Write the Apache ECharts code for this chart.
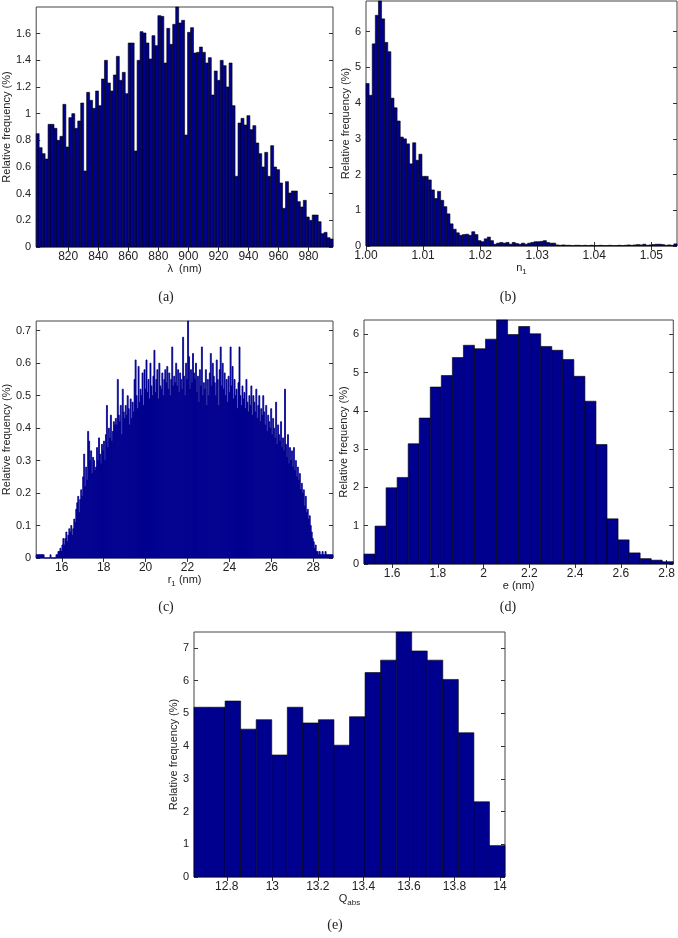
<!DOCTYPE html>
<html>
<head>
<meta charset="utf-8">
<script src="https://cdn.jsdelivr.net/npm/echarts@6/dist/echarts.min.js"></script>
<style>
  html, body { margin: 0; padding: 0; background: #fff; }
  #chart { width: 678px; height: 938px; }
</style>
</head>
<body>
<div id="chart"></div>
<script>
// (a) wavelength histogram, 100 bins
const lambdaRange = [798.7, 996.3]
const lambdaVals = [
  0.85, 0.745, 0.70, 0.66, 0.92, 0.92, 0.89, 0.80, 0.83, 1.07,
  0.75, 0.97, 1.00, 0.89, 0.945, 1.08, 0.57, 1.16, 1.10, 1.04,
  1.17, 1.06, 1.26, 1.40, 1.23, 1.17, 1.29, 1.43, 1.25, 1.31,
  1.15, 1.53, 1.53, 0.72, 1.40, 1.615, 1.605, 1.53, 1.41, 1.585,
  1.51, 1.735, 1.73, 1.38, 1.64, 1.52, 1.67, 1.80, 1.68, 1.70,
  0.84, 1.61, 1.645, 1.455, 1.46, 1.50, 1.46, 1.38, 1.42, 1.14,
  1.32, 1.25, 1.40, 1.36, 1.20, 1.38, 1.06, 0.53, 0.93, 0.965,
  0.915, 0.985, 0.88, 0.91, 0.78, 0.70, 0.60, 0.71, 0.53, 0.76,
  0.60, 0.58, 0.48, 0.29, 0.49, 0.405, 0.42, 0.42, 0.34, 0.30,
  0.35, 0.225, 0.20, 0.24, 0.24, 0.19, 0.10, 0.11, 0.07, 0.06
]
const lambdaTicks = [820, 840, 860, 880, 900, 920, 940, 960, 980]
const lambdaYTicks = [0, 0.2, 0.4, 0.6, 0.8, 1, 1.2, 1.4, 1.6]

// (b) n1 histogram, 100 bins
const n1Range = [1.0, 1.0545]
const n1Vals = [
  4.55, 4.22, 5.66, 6.46, 6.86, 6.36, 5.70, 5.44, 4.14, 3.87,
  3.50, 3.05, 3.00, 2.86, 2.30, 2.89, 2.40, 2.57, 1.95, 1.95,
  1.85, 1.57, 1.33, 1.53, 1.28, 1.10, 0.90, 0.62, 0.47, 0.37,
  0.30, 0.32, 0.33, 0.30, 0.40, 0.32, 0.15, 0.12, 0.20, 0.25,
  0.15, 0.05, 0.08, 0.10, 0.08, 0.10, 0.05, 0.10, 0.07, 0.05,
  0.08, 0.05, 0.08, 0.10, 0.12, 0.12, 0.13, 0.15, 0.10, 0.08,
  0.08, 0.03, 0.02, 0.03, 0.02, 0.02, 0.01, 0.02, 0.02, 0.01,
  0.02, 0.01, 0.02, 0.01, 0.01, 0.02, 0.01, 0.01, 0.02, 0.01,
  0.01, 0.02, 0.01, 0.02, 0.03, 0.02, 0.03, 0.04, 0.03, 0.05,
  0.02, 0.03, 0.04, 0.05, 0.05, 0.04, 0.02, 0.03, 0.02, 0.06
]
const n1Ticks = [1.00, 1.01, 1.02, 1.03, 1.04, 1.05]
const n1YTicks = [0, 1, 2, 3, 4, 5, 6]

// (c) r1 histogram, 300 bins
const r1Range = [14.78, 28.94]
const r1Vals = [
  0.01, 0.01, 0.01, 0.01, 0.01, 0.01, 0.01, 0.01, 0, 0,
  0, 0, 0, 0, 0.01, 0, 0, 0, 0, 0,
  0.01, 0.01, 0.02, 0.02, 0.03, 0.02, 0.04, 0.06, 0.04, 0.06,
  0.08, 0.05, 0.07, 0.09, 0.08, 0.10, 0.07, 0.09, 0.12, 0.11,
  0.15, 0.17, 0.19, 0.14, 0.18, 0.21, 0.19, 0.25, 0.32, 0.22,
  0.28, 0.24, 0.39, 0.36, 0.30, 0.33, 0.26, 0.31, 0.30, 0.27,
  0.28, 0.34, 0.30, 0.37, 0.32, 0.29, 0.35, 0.33, 0.36, 0.30,
  0.38, 0.47, 0.34, 0.40, 0.37, 0.44, 0.36, 0.39, 0.42, 0.41,
  0.43, 0.41, 0.55, 0.44, 0.42, 0.47, 0.38, 0.52, 0.45, 0.43,
  0.47, 0.44, 0.50, 0.46, 0.41, 0.49, 0.43, 0.48, 0.45, 0.55,
  0.61, 0.50, 0.46, 0.59, 0.48, 0.52, 0.50, 0.57, 0.47, 0.58,
  0.52, 0.61, 0.51, 0.55, 0.49, 0.60, 0.53, 0.50, 0.56, 0.64,
  0.51, 0.55, 0.58, 0.49, 0.60, 0.53, 0.52, 0.57, 0.50, 0.55,
  0.58, 0.54, 0.59, 0.52, 0.57, 0.50, 0.55, 0.65, 0.53, 0.56,
  0.54, 0.60, 0.53, 0.58, 0.51, 0.57, 0.55, 0.52, 0.68, 0.56,
  0.50, 0.60, 0.55, 0.73, 0.62, 0.52, 0.58, 0.54, 0.63, 0.57,
  0.55, 0.60, 0.51, 0.56, 0.48, 0.58, 0.53, 0.65, 0.50, 0.54,
  0.52, 0.58, 0.47, 0.55, 0.50, 0.57, 0.63, 0.53, 0.60, 0.56,
  0.54, 0.50, 0.61, 0.55, 0.47, 0.58, 0.65, 0.53, 0.60, 0.52,
  0.57, 0.50, 0.55, 0.48, 0.56, 0.51, 0.65, 0.53, 0.59, 0.49,
  0.55, 0.50, 0.52, 0.46, 0.54, 0.65, 0.50, 0.47, 0.53, 0.49,
  0.51, 0.46, 0.55, 0.48, 0.45, 0.50, 0.47, 0.53, 0.44, 0.50,
  0.48, 0.45, 0.52, 0.43, 0.47, 0.50, 0.42, 0.46, 0.44, 0.50,
  0.45, 0.41, 0.47, 0.39, 0.44, 0.42, 0.40, 0.46, 0.38, 0.43,
  0.40, 0.37, 0.48, 0.35, 0.41, 0.38, 0.36, 0.42, 0.34, 0.37,
  0.33, 0.52, 0.35, 0.31, 0.38, 0.29, 0.34, 0.30, 0.33, 0.28,
  0.34, 0.27, 0.30, 0.25, 0.28, 0.24, 0.26, 0.21, 0.23, 0.20,
  0.21, 0.16, 0.19, 0.14, 0.15, 0.12, 0.13, 0.10, 0.08, 0.06,
  0.05, 0.03, 0.04, 0.02, 0.02, 0.01, 0.02, 0.01, 0.01, 0.02,
  0.01, 0.01, 0.02, 0.01, 0.01, 0.01, 0.01, 0.01, 0.01, 0.01
]
const r1Ticks = [16, 18, 20, 22, 24, 26, 28]
const r1YTicks = [0, 0.1, 0.2, 0.3, 0.4, 0.5, 0.6, 0.7]

// (d) e histogram, 28 bins
const eRange = [1.477, 2.829]
const eVals = [
  0.26, 0.99, 1.99, 2.26, 3.14, 3.81, 4.62, 4.92, 5.39, 5.71,
  5.62, 5.87, 6.37, 5.99, 6.20, 6.01, 5.68, 5.58, 5.34, 4.90,
  4.25, 3.12, 1.18, 0.63, 0.29, 0.14, 0.10, 0.06
]
const eTicks = [1.6, 1.8, 2, 2.2, 2.4, 2.6, 2.8]
const eYTicks = [0, 1, 2, 3, 4, 5, 6]

// (e) Qabs histogram, 20 bins
const qRange = [12.656, 14.022]
const qVals = [
  5.19, 5.19, 5.38, 4.52, 4.81, 3.73, 5.19, 4.71, 4.81, 4.03,
  4.90, 6.25, 6.63, 7.49, 6.91, 6.63, 6.04, 4.41, 2.30, 0.96
]
const qTicks = [12.8, 13, 13.2, 13.4, 13.6, 13.8, 14]
const qYTicks = [0, 1, 2, 3, 4, 5, 6, 7]

const BAR = "#00008f"
const FONT = "Liberation Sans"

const panels = [
  { grid: { left: 31, top: 7, width: 302, height: 240 }, range: lambdaRange, vals: lambdaVals, ymax: 1.8,
    xt: lambdaTicks, yt: lambdaYTicks, xfmt: v => String(v), xname: "λ  (nm)", xgap: 14, ygap: 20, edge: true },
  { grid: { left: 366, top: 1, width: 311, height: 245 }, range: n1Range, vals: n1Vals, ymax: 6.86,
    xt: n1Ticks, yt: n1YTicks, xfmt: v => v.toFixed(2), xname: "{n|n}{s|1}", xgap: 13, ygap: 12, edge: true },
  { grid: { left: 31, top: 321, width: 302, height: 237 }, range: r1Range, vals: r1Vals, ymax: 0.73,
    xt: r1Ticks, yt: r1YTicks, xfmt: v => String(v), xname: "{n|r}{s|1}{n| (nm)}", xgap: 13, ygap: 20, edge: false },
  { grid: { left: 364, top: 320, width: 311, height: 244 }, range: eRange, vals: eVals, ymax: 6.37,
    xt: eTicks, yt: eYTicks, xfmt: v => String(v), xname: "e (nm)", xgap: 12, ygap: 12, edge: true },
  { grid: { left: 194, top: 632, width: 311, height: 245 }, range: qRange, vals: qVals, ymax: 7.49,
    xt: qTicks, yt: qYTicks, xfmt: v => String(v), xname: "{n|Q}{s|abs}", xgap: 13, ygap: 12, edge: true }
]

const tickStyle = { color: "#333", width: 1 }
const rich = {
  n: { fontFamily: FONT, fontSize: 11, color: "#222" },
  s: { fontFamily: FONT, fontSize: 8, color: "#222", verticalAlign: "bottom", padding: [7, 0, 0, 0] }
}

const grids = []
const xAxes = []
const yAxes = []
const series = []

panels.forEach((p, i) => {
  grids.push({ ...p.grid, show: true, borderColor: "#444", borderWidth: 1, backgroundColor: "#fff" })

  const xBase = {
    gridIndex: i, type: "value", min: p.range[0], max: p.range[1],
    axisLine: { show: false }, splitLine: { show: false },
    axisTick: { inside: true, length: 4, customValues: p.xt, lineStyle: tickStyle }
  }
  xAxes.push({
    ...xBase, position: "bottom",
    axisLabel: { customValues: p.xt, formatter: p.xfmt, fontFamily: FONT, fontSize: 12, color: "#222", margin: 4 },
    name: p.xname, nameLocation: "middle", nameGap: p.xgap,
    nameTextStyle: { fontFamily: FONT, fontSize: 11, color: "#222", rich }
  })
  xAxes.push({ ...xBase, position: "top", axisLabel: { show: false } })

  const yBase = {
    gridIndex: i, type: "value", min: 0, max: p.ymax,
    axisLine: { show: false }, splitLine: { show: false },
    axisTick: { inside: true, length: 4, customValues: p.yt, lineStyle: tickStyle }
  }
  yAxes.push({
    ...yBase, position: "left",
    axisLabel: { customValues: p.yt, fontFamily: FONT, fontSize: 11, color: "#222", margin: 5 },
    name: "Relative frequency (%)", nameLocation: "middle", nameRotate: 90, nameGap: p.ygap,
    nameTextStyle: { fontFamily: FONT, fontSize: 11, color: "#222" }
  })
  yAxes.push({ ...yBase, position: "right", axisLabel: { show: false } })

  const w = (p.range[1] - p.range[0]) / p.vals.length
  const data = p.vals.map((v, k) => [p.range[0] + k * w, p.range[0] + (k + 1) * w, v])
  series.push({
    type: "custom",
    xAxisIndex: i * 2,
    yAxisIndex: i * 2,
    encode: { x: [0, 1], y: 2 },
    data,
    renderItem: (params, api) => {
      const p0 = api.coord([api.value(0), 0])
      const p1 = api.coord([api.value(1), api.value(2)])
      return {
        type: "rect",
        shape: { x: p0[0], y: p1[1], width: p1[0] - p0[0], height: p0[1] - p1[1] },
        style: p.edge
          ? { fill: BAR, stroke: "#000", lineWidth: 0.6 }
          : { fill: BAR, stroke: BAR, lineWidth: 0.8 }
      }
    }
  })
})

// panel captions
const captions = [
  { text: "(a)", x: 166, y: 297 },
  { text: "(b)", x: 508, y: 297 },
  { text: "(c)", x: 166, y: 607 },
  { text: "(d)", x: 508, y: 607 },
  { text: "(e)", x: 335, y: 925 }
]

const chart = echarts.init(document.getElementById("chart"), null, { renderer: "canvas" })
chart.setOption({
  animation: false,
  backgroundColor: "#fff",
  grid: grids,
  xAxis: xAxes,
  yAxis: yAxes,
  series,
  graphic: captions.map(c => ({
    type: "text",
    x: c.x,
    y: c.y,
    style: { text: c.text, font: "14px 'Liberation Serif'", fill: "#222", textAlign: "center", textVerticalAlign: "middle" }
  }))
})
</script>
</body>
</html>
